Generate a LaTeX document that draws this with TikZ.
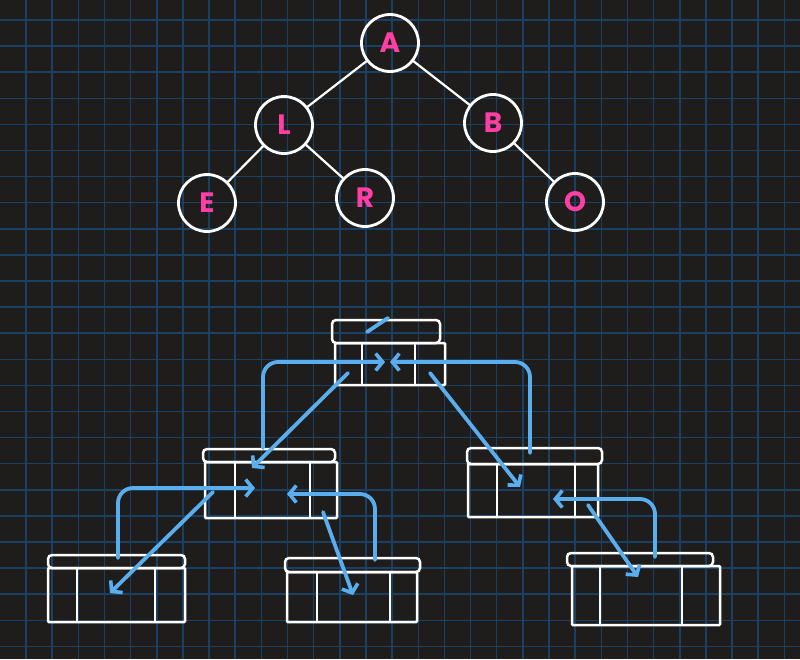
\documentclass[tikz,border=0pt]{standalone}
\usepackage{fontspec}
\newfontfamily\handfont{Poppins}
\usetikzlibrary{arrows.meta,fit}
\definecolor{bgc}{HTML}{1F1D1C}
\definecolor{gridc}{HTML}{1A4163}
\definecolor{pinkc}{HTML}{FF3FA3}
\definecolor{bluec}{HTML}{5AAEEE}
\tikzset{
  circ/.style={circle, draw=white, line width=2.8pt, minimum size=57pt, inner sep=0pt,
    text=pinkc, font=\handfont\bfseries\fontsize{28}{28}\selectfont},
  edge/.style={white, line width=2.2pt, line cap=round},
  hd/.style={draw=white, line width=2.5pt, rounded corners=4pt, inner sep=0pt, outer sep=0pt},
  bd/.style={draw=white, line width=2.5pt, rounded corners=1pt, inner sep=0pt, outer sep=0pt},
  dv/.style={white, line width=2.3pt, line cap=round},
  ptr/.style={bluec, line width=3.8pt, line cap=round, line join=round,
    -{Straight Barb[length=7pt,width=17pt,line width=3.6pt]}},
  up/.style={ptr, rounded corners=15pt},
  nullstroke/.style={bluec, line width=3.8pt, line cap=round}
}
\begin{document}
\begin{tikzpicture}[x=1pt,y=-1pt]
\fill[bgc] (0,0) rectangle (800,659);
\useasboundingbox (0,0) rectangle (800,659);
% grid
\foreach \i in {0,...,30} \draw[gridc, line width=1.5pt] ({26+26.15*\i},0) -- ({26+26.15*\i},659);
\foreach \j in {0,...,25} \draw[gridc, line width=1.5pt] (0,{20+26.1*\j}) -- (800,{20+26.1*\j});

% ---------- upper tree ----------
\node[circ] (A) at (390,43) {A};
\node[circ] (L) at (284,125) {L};
\node[circ] (B) at (493,123) {B};
\node[circ] (E) at (207,203) {E};
\node[circ] (R) at (365,198) {R};
\node[circ] (O) at (575,202) {O};
\draw[edge] (A) -- (L);
\draw[edge] (A) -- (B);
\draw[edge] (L) -- (E);
\draw[edge] (L) -- (R);
\draw[edge] (B) -- (O);

% ---------- lower boxes ----------
% root
\node[hd, fit={(332,320) (440,343)}] (rh) {};
\node[bd, fit={(335,343) (445,385)}] (rb) {};
\draw[dv] (362,343) -- (362,385);
\draw[dv] (415,343) -- (415,385);
% L
\node[hd, fit={(203,449) (335,462)}] (lh) {};
\node[bd, fit={(205,462) (337,518)}] (lb) {};
\draw[dv] (235,462) -- (235,518);
\draw[dv] (310,462) -- (310,518);
% B
\node[hd, fit={(467,448) (602,464)}] (bh) {};
\node[bd, fit={(468,464) (598,517)}] (bb) {};
\draw[dv] (497,464) -- (497,517);
\draw[dv] (575,464) -- (575,517);
% E
\node[hd, fit={(48,555) (185,568)}] (eh) {};
\node[bd, fit={(48,568) (185,622)}] (eb) {};
\draw[dv] (77,568) -- (77,622);
\draw[dv] (155,568) -- (155,622);
% R
\node[hd, fit={(285,558) (420,572)}] (rrh) {};
\node[bd, fit={(287,572) (417,622)}] (rrb) {};
\draw[dv] (317,572) -- (317,622);
\draw[dv] (390,572) -- (390,622);
% O
\node[hd, fit={(567,553) (713,566)}] (oh) {};
\node[bd, fit={(572,566) (720,625)}] (ob) {};
\draw[dv] (600,566) -- (600,625);
\draw[dv] (682,566) -- (682,625);

% ---------- pointer coordinates ----------
\coordinate (rpar1) at (367,332);
\coordinate (rpar2) at (388,318);
\coordinate (rinL) at (385,362);
\coordinate (rinR) at (390,362);
\coordinate (rleft) at (348,373);
\coordinate (rright) at (430,373);
\coordinate (lpar) at (263,448);
\coordinate (linL) at (255,488);
\coordinate (linR) at (287,494);
\coordinate (ltop) at (252,468);
\coordinate (lleft) at (213,492);
\coordinate (lright) at (323,512);
\coordinate (bpar) at (530,453);
\coordinate (btop) at (520,487);
\coordinate (binR) at (553,499);
\coordinate (bright) at (588,505);
\coordinate (epar) at (118,558);
\coordinate (etop) at (110,593);
\coordinate (rrpar) at (375,560);
\coordinate (rrtop) at (353,595);
\coordinate (opar) at (655,557);
\coordinate (otop) at (638,577);

% ---------- pointers ----------
\draw[nullstroke] (rpar1) -- (rpar2);
\draw[up] (lpar) |- (rinL);
\draw[up] (bpar) |- (rinR);
\draw[ptr] (rleft) -- (ltop);
\draw[ptr] (rright) -- (btop);
\draw[up] (epar) |- (linL);
\draw[up] (rrpar) |- (linR);
\draw[ptr] (lleft) -- (etop);
\draw[ptr] (lright) -- (rrtop);
\draw[up] (opar) |- (binR);
\draw[ptr] (bright) -- (otop);
\end{tikzpicture}
\end{document}
